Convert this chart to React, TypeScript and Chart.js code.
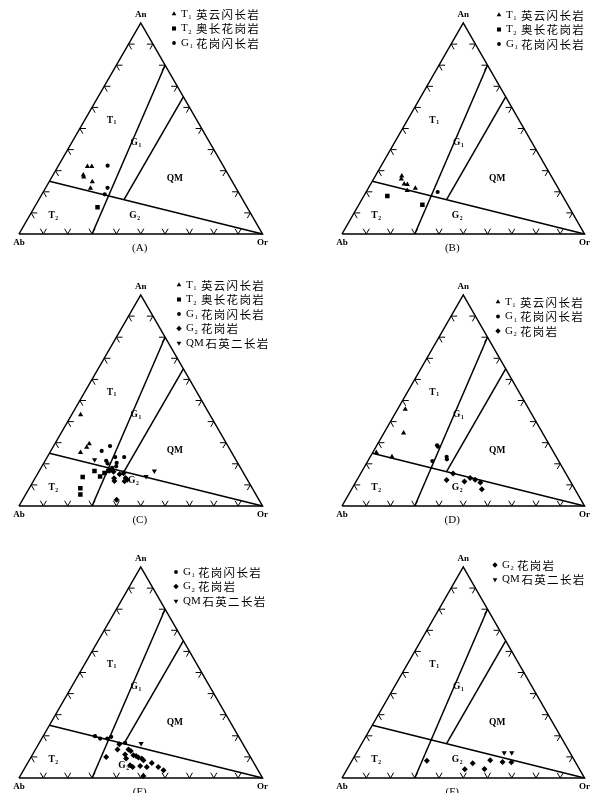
import React, { useEffect, useRef } from 'react';
import { Chart, registerables } from 'chart.js';

Chart.register(...registerables);

// ---- Data: each point is [An %, Or %] (Ab = 100 - An - Or) ----
const A_T1 = [[32.0, 12.1], [32.0, 13.9], [28.0, 12.4], [27.0, 13.1], [24.8, 17.7], [21.7, 18.5]];
const A_T2 = [[12.7, 25.9]];
const A_G1 = [[32.4, 20.2], [21.9, 25.4], [18.8, 25.8]];

const B_T1 = [[27.5, 10.9], [26.1, 11.4], [23.7, 13.8], [23.5, 15.2], [20.6, 16.6], [21.7, 19.4]];
const B_T2 = [[18.0, 9.7], [13.9, 26.2]];
const B_G1 = [[19.9, 29.5]];

const C_T1 = [[43.2, 3.7], [25.3, 12.6], [27.8, 13.9], [29.5, 14.1]];
const C_T2 = [[13.7, 19.3], [8.4, 21.0], [5.4, 22.5], [16.6, 22.7], [14.0, 26.3], [15.6, 27.3], [16.6, 28.4]];
const C_G1 = [[28.4, 23.2], [26.1, 20.9], [23.2, 31.6], [23.2, 27.9], [21.4, 25.1], [20.2, 26.3], [20.4, 29.9], [18.1, 29.2], [18.8, 30.5], [16.9, 29.0]];
const C_G2 = [[16.2, 30.7], [11.8, 33.3], [13.1, 32.5], [15.0, 33.8], [15.5, 35.2], [13.3, 37.1], [12.4, 38.2], [11.7, 37.5], [3.0, 38.6]];
const C_QM = [[21.9, 20.1], [16.6, 47.3], [14.0, 45.2]];

const D_T1 = [[45.8, 3.2], [34.6, 8.1], [25.3, 1.5], [23.4, 8.9]];
const D_G1 = [[28.8, 24.8], [28.1, 25.5], [23.3, 31.5], [22.1, 32.2], [21.3, 26.6]];
const D_G2 = [[15.4, 38.1], [12.3, 37.0], [11.6, 44.7], [13.3, 46.2], [12.4, 48.7], [11.1, 51.5], [7.9, 53.7]];

const E_G1 = [[19.8, 21.3], [18.7, 24.0], [18.7, 26.9], [19.5, 28.1], [16.6, 35.3]];
const E_G2 = [[16.0, 33.2], [13.5, 33.7], [13.5, 38.2], [12.8, 39.5], [10.0, 30.8], [11.1, 38.0], [9.2, 39.4], [10.8, 41.6], [10.4, 42.9], [9.7, 44.2], [9.2, 45.8], [8.4, 46.9], [6.0, 42.6], [5.2, 44.1], [5.7, 46.9], [5.2, 49.9], [7.1, 51.0], [5.2, 54.6], [3.7, 57.5], [1.0, 50.6]];
const E_QM = [[16.3, 42.0]];

const F_G2 = [[8.2, 30.9], [4.1, 48.6], [7.0, 50.4], [4.3, 56.6], [8.4, 56.9], [7.6, 62.4], [7.5, 66.1]];
const F_QM = [[12.0, 60.9], [12.0, 64.0]];

// Field boundaries (fractions of An, Or)
const CUT_LINE = [[0.25, 0], [0, 1]];
const TG_LINE = [[0, 0.3], [0.8, 0.2]];
const GQM_LINE = [[0.1625, 0.35], [0.65, 0.35]];
const TICK_FRACTIONS = [0.1, 0.2, 0.3, 0.4, 0.5, 0.6, 0.7, 0.8, 0.9];

type Key = 'T1' | 'T2' | 'G1' | 'G2' | 'QM';

const NAMES: Record<Key, [string, string, string]> = {
  T1: ['T', '1', '英云闪长岩'],
  T2: ['T', '2', '奥长花岗岩'],
  G1: ['G', '1', '花岗闪长岩'],
  G2: ['G', '2', '花岗岩'],
  QM: ['QM', '', '石英二长岩'],
};

const MARK: Record<Key, { style: string; r: number; rot: number }> = {
  T1: { style: 'triangle', r: 3, rot: 0 },
  T2: { style: 'rect', r: 3.2, rot: 0 },
  G1: { style: 'circle', r: 2.1, rot: 0 },
  G2: { style: 'rectRot', r: 3, rot: 0 },
  QM: { style: 'triangle', r: 3, rot: 180 },
};

const SERIF = "'Liberation Serif', 'DejaVu Serif', serif";
const CJK = "'Noto Sans CJK SC', sans-serif";

interface PanelCfg {
  id: string;
  col: number;
  row: number;
  series: Partial<Record<Key, number[][]>>;
  legend: Key[];
  legendPos: [number, number]; // page px of first marker
  labels?: Partial<Record<string, [number, number]>>;
}

const PANELS: PanelCfg[] = [
  { id: 'A', col: 0, row: 0, series: { T1: A_T1, T2: A_T2, G1: A_G1 }, legend: ['T1', 'T2', 'G1'], legendPos: [174, 14] },
  { id: 'B', col: 1, row: 0, series: { T1: B_T1, T2: B_T2, G1: B_G1 }, legend: ['T1', 'T2', 'G1'], legendPos: [499, 15] },
  { id: 'C', col: 0, row: 1, series: { T1: C_T1, T2: C_T2, G1: C_G1, G2: C_G2, QM: C_QM }, legend: ['T1', 'T2', 'G1', 'G2', 'QM'], legendPos: [179, 285], labels: { G2: [0.47, 0.12] } },
  { id: 'D', col: 1, row: 1, series: { T1: D_T1, G1: D_G1, G2: D_G2 }, legend: ['T1', 'G1', 'G2'], legendPos: [498, 302] },
  { id: 'E', col: 0, row: 2, series: { G1: E_G1, G2: E_G2, QM: E_QM }, legend: ['G1', 'G2', 'QM'], legendPos: [176, 572], labels: { G2: [0.43, 0.06] } },
  { id: 'F', col: 1, row: 2, series: { G2: F_G2, QM: F_QM }, legend: ['G2', 'QM'], legendPos: [495, 565] },
];

const DEFAULT_LABELS: Record<string, [number, number]> = {
  T1: [0.38, 0.54], G1: [0.48, 0.435], QM: [0.64, 0.262], T2: [0.141, 0.088], G2: [0.475, 0.088],
};

// layout
const COL_X0 = [19, 342];
const COL_W = [243.5, 242.5];
const COL_LEFT = [0, 295];
const COL_CW = [295, 296];
const ROW_BASE = [234, 506, 778];
const ROW_TOP = [0, 262, 532];
const ROW_CH = [262, 270, 261];
const TRI_H = 211;
const CAPTION_DX = [-1, -11];
const TICK_LEN = 0.025;

function tern(an: number, or: number) {
  return { x: or + an / 2, y: an };
}
const GAP = { x: NaN, y: NaN };

function tickData() {
  const pts: { x: number; y: number }[] = [];
  const a = TICK_LEN;
  for (const f of TICK_FRACTIONS) {
    pts.push(tern(a, f - a), tern(0, f), tern(a, f), GAP);
    pts.push(tern(f, a), tern(f, 0), tern(f - a, a), GAP);
    pts.push(tern(f, 1 - f - a), tern(f, 1 - f), tern(f - a, 1 - f), GAP);
  }
  return pts;
}

function drawMarker(ctx: CanvasRenderingContext2D, key: Key, x: number, y: number, scale = 0.9) {
  const m = MARK[key];
  const r = m.r * scale;
  ctx.save();
  ctx.fillStyle = '#000';
  ctx.beginPath();
  if (m.style === 'circle') {
    ctx.arc(x, y, r, 0, Math.PI * 2);
  } else if (m.style === 'rect') {
    const s = r * Math.SQRT1_2;
    ctx.rect(x - s, y - s, 2 * s, 2 * s);
  } else if (m.style === 'rectRot') {
    ctx.moveTo(x, y - r); ctx.lineTo(x + r, y); ctx.lineTo(x, y + r); ctx.lineTo(x - r, y); ctx.closePath();
  } else {
    const dir = m.rot === 180 ? -1 : 1;
    ctx.moveTo(x, y - dir * r);
    ctx.lineTo(x + r * 0.866, y + dir * r * 0.5);
    ctx.lineTo(x - r * 0.866, y + dir * r * 0.5);
    ctx.closePath();
  }
  ctx.fill();
  ctx.restore();
}

function drawSub(ctx: CanvasRenderingContext2D, main: string, sub: string, x: number, y: number, size: number, bold: boolean, center: boolean) {
  const w = bold ? 'bold ' : '';
  ctx.font = `${w}${size}px ${SERIF}`;
  const mw = ctx.measureText(main).width;
  ctx.font = `${w}${size * 0.6}px ${SERIF}`;
  const sw = sub ? ctx.measureText(sub).width : 0;
  const total = mw + sw + (sub ? 0.5 : 0);
  const sx = center ? x - total / 2 : x;
  ctx.textAlign = 'left';
  ctx.textBaseline = 'middle';
  ctx.font = `${w}${size}px ${SERIF}`;
  ctx.fillText(main, sx, y);
  if (sub) {
    ctx.font = `${w}${size * 0.6}px ${SERIF}`;
    ctx.fillText(sub, sx + mw + 0.5, y + size * 0.3);
  }
  return mw + sw;
}

function Panel({ cfg }: { cfg: PanelCfg }) {
  const ref = useRef<HTMLCanvasElement>(null);
  const cl = COL_LEFT[cfg.col];
  const cw = COL_CW[cfg.col];
  const ct = ROW_TOP[cfg.row];
  const ch = ROW_CH[cfg.row];

  useEffect(() => {
    if (!ref.current) return;
    const x0 = COL_X0[cfg.col];
    const W = COL_W[cfg.col];
    const yb = ROW_BASE[cfg.row];
    const padding = {
      left: x0 - cl,
      right: cl + cw - x0 - W,
      top: yb - TRI_H - ct,
      bottom: ct + ch - yb,
    };

    const lineDs = (data: { x: number; y: number }[], width: number) => ({
      type: 'scatter' as const,
      data,
      showLine: true,
      pointRadius: 0,
      borderColor: '#000',
      borderWidth: width,
      backgroundColor: '#000',
      order: 2,
      clip: 12,
    });

    const datasets: any[] = [];
    (['T1', 'T2', 'G1', 'G2', 'QM'] as Key[]).forEach((key) => {
      const d = cfg.series[key];
      if (!d) return;
      const m = MARK[key];
      datasets.push({
        type: 'scatter',
        label: key,
        data: d.map(([an, or]) => tern(an / 100, or / 100)),
        pointStyle: m.style,
        rotation: m.rot,
        pointRadius: m.r,
        backgroundColor: '#000',
        borderColor: '#000',
        borderWidth: 0,
        order: 0,
        clip: 12,
      });
    });
    datasets.push(lineDs([tern(0, 0), tern(0, 1), tern(1, 0), tern(0, 0)], 1.5));
    datasets.push(lineDs(CUT_LINE.map(([a, o]) => tern(a, o)), 1.5));
    datasets.push(lineDs(TG_LINE.map(([a, o]) => tern(a, o)), 1.5));
    datasets.push(lineDs(GQM_LINE.map(([a, o]) => tern(a, o)), 1.5));
    datasets.push(lineDs(tickData(), 1));

    const textPlugin = {
      id: 'ternaryText',
      afterDatasetsDraw(chart: any) {
        const ctx: CanvasRenderingContext2D = chart.ctx;
        const xs = chart.scales.x;
        const ys = chart.scales.y;
        const P = (x: number, y: number) => [xs.getPixelForValue(x), ys.getPixelForValue(y)];
        ctx.save();
        ctx.fillStyle = '#000';
        ctx.textAlign = 'center';
        ctx.textBaseline = 'middle';
        ctx.font = `bold 9px ${SERIF}`;
        const [anx, any] = P(0.5, 1);
        ctx.fillText('An', anx, any - 8);
        const [abx, aby] = P(0, 0);
        ctx.fillText('Ab', abx, aby + 8.5);
        const [orx, ory] = P(1, 0);
        ctx.fillText('Or', orx, ory + 8.5);

        const labels = { ...DEFAULT_LABELS, ...(cfg.labels || {}) } as Record<string, [number, number]>;
        const fieldNames: Record<string, [string, string]> = { T1: ['T', '1'], G1: ['G', '1'], QM: ['QM', ''], T2: ['T', '2'], G2: ['G', '2'] };
        Object.keys(fieldNames).forEach((k) => {
          const [lx, ly] = labels[k];
          const [px, py] = P(lx, ly);
          drawSub(ctx, fieldNames[k][0], fieldNames[k][1], px, py, 9.5, true, true);
        });

        // caption
        ctx.font = `11px ${SERIF}`;
        ctx.textAlign = 'center';
        ctx.textBaseline = 'middle';
        ctx.fillText(`(${cfg.id})`, anx + CAPTION_DX[cfg.col], aby + 14.5);

        // legend
        const [lmx, lmy] = cfg.legendPos;
        cfg.legend.forEach((key, i) => {
          const mx = lmx - cl;
          const my = lmy - ct + i * 14.5;
          drawMarker(ctx, key, mx, my);
          const [main, sub, zh] = NAMES[key];
          const tx = mx + 7;
          drawSub(ctx, main, sub, tx, my, 11, false, false);
          ctx.font = `11.5px ${CJK}`;
          ctx.textAlign = 'left';
          ctx.textBaseline = 'middle';
          const cx0 = tx + (key === 'QM' ? 19.5 : 15);
          Array.from(zh).forEach((c, j) => {
            ctx.fillText(c, cx0 + j * 12.8, my + 0.5);
          });
        });
        ctx.restore();
      },
    };

    const chart = new Chart(ref.current, {
      type: 'scatter',
      data: { datasets },
      options: {
        animation: false,
        responsive: false,
        devicePixelRatio: 1,
        events: [],
        layout: { padding },
        scales: {
          x: { type: 'linear', min: 0, max: 1, display: false },
          y: { type: 'linear', min: 0, max: 1, display: false },
        },
        plugins: { legend: { display: false }, tooltip: { enabled: false }, title: { display: false } },
      } as any,
      plugins: [textPlugin],
    });
    return () => chart.destroy();
  }, []);

  return (
    <canvas
      ref={ref}
      width={cw}
      height={ch}
      style={{ position: 'absolute', left: cl, top: ct, width: cw, height: ch }}
    />
  );
}

export default function App() {
  return (
    <div style={{ position: 'fixed', left: 0, top: 0, width: 591, height: 793, background: '#fff', overflow: 'hidden' }}>
      {PANELS.map((p) => (
        <Panel key={p.id} cfg={p} />
      ))}
    </div>
  );
}
